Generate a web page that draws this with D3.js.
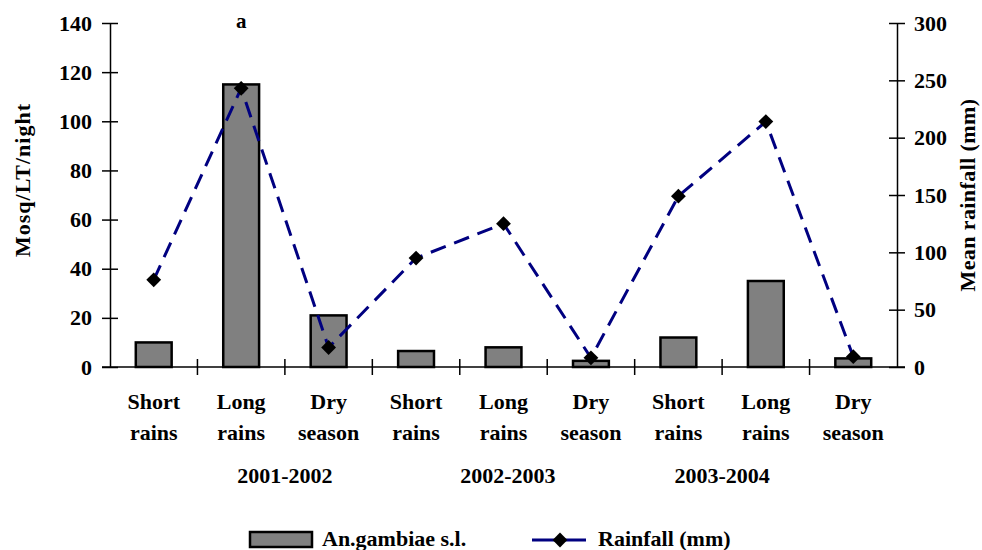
<!DOCTYPE html>
<html>
<head>
  <title>An. gambiae and rainfall</title>
  <script src="https://d3js.org/d3.v7.min.js"></script>
  <style>
    body { margin: 0; background: #fff; }
    text { font-family: "Liberation Serif", "Times New Roman", serif; font-weight: bold; fill: #000; }
  </style>
</head>
<body>
<svg id="chart"></svg>
<script>

  // data
  var seasons = ["Short rains", "Long rains", "Dry season",
                 "Short rains", "Long rains", "Dry season",
                 "Short rains", "Long rains", "Dry season"];
  var mosquitoes = [10, 115, 21, 6.5, 8, 2.5, 12, 35, 3.5];
  var rainfall = [76, 243, 17, 95, 125, 8, 149, 214, 9];
  var years = ["2001-2002", "2002-2003", "2003-2004"];
  var leftTicks = [0, 20, 40, 60, 80, 100, 120, 140];
  var rightTicks = [0, 50, 100, 150, 200, 250, 300];

  var width = 982;
  var height = 550;
  var margin = {left: 110, right: 85, top: 23, bottom: 183};

  var svg = d3.select("#chart")
    .attr("width", width)
    .attr("height", height);

  var x = d3.scaleBand()
    .domain(d3.range(seasons.length))
    .range([margin.left, width - margin.right])
    .padding(0);

  var yLeft = d3.scaleLinear()
    .domain([0, 140])
    .range([height - margin.bottom, margin.top]);

  var yRight = d3.scaleLinear()
    .domain([0, 300])
    .range([height - margin.bottom, margin.top]);

  var y0 = yLeft(0);
  var barW = x.bandwidth() * 0.41;

  // bars
  svg.append("g").selectAll("rect")
    .data(mosquitoes).enter()
    .append("rect")
    .attr("x", (d, i) => x(i) + x.bandwidth() / 2 - barW / 2)
    .attr("y", d => yLeft(d))
    .attr("width", barW)
    .attr("height", d => y0 - yLeft(d))
    .attr("fill", "#808080")
    .attr("stroke", "#000")
    .attr("stroke-width", 2.5);

  // axes
  var leftAxis = d3.axisLeft(yLeft).tickValues(leftTicks).tickSizeInner(8).tickSizeOuter(0).tickPadding(10);
  var gl = svg.append("g").attr("transform", `translate(${margin.left},0)`).call(leftAxis);

  var rightAxis = d3.axisRight(yRight).tickValues(rightTicks).tickSizeInner(8).tickSizeOuter(0).tickPadding(9);
  var gr = svg.append("g").attr("transform", `translate(${width - margin.right},0)`).call(rightAxis);

  [gl, gr].forEach(function (g) {
    g.select(".domain").attr("stroke", "#000").attr("stroke-width", 1.5);
    g.selectAll(".tick line").attr("stroke", "#000").attr("stroke-width", 1.5);
    g.selectAll(".tick text")
      .style("font-family", "'Liberation Serif', serif")
      .style("font-weight", "bold")
      .style("font-size", "22px")
      .attr("fill", "#000");
  });
  // ticks cross the axis line
  gl.selectAll(".tick line").attr("x1", 8);
  gr.selectAll(".tick line").attr("x1", -8);

  // x axis line and category ticks
  svg.append("line")
    .attr("x1", margin.left - 8).attr("x2", width - margin.right + 8)
    .attr("y1", y0).attr("y2", y0)
    .attr("stroke", "#000").attr("stroke-width", 1.5);

  svg.append("g").selectAll("line")
    .data(d3.range(1, seasons.length)).enter()
    .append("line")
    .attr("x1", i => x(i)).attr("x2", i => x(i))
    .attr("y1", y0 - 8).attr("y2", y0 + 8)
    .attr("stroke", "#000").attr("stroke-width", 1.5);

  // category labels, two lines each
  var cat = svg.append("g").selectAll("text")
    .data(seasons).enter()
    .append("text")
    .attr("text-anchor", "middle")
    .style("font-size", "22px")
    .attr("x", (d, i) => x(i) + x.bandwidth() / 2)
    .attr("y", 409);
  cat.append("tspan").text(d => d.split(" ")[0]);
  cat.append("tspan")
    .attr("x", (d, i) => x(i) + x.bandwidth() / 2)
    .attr("dy", 31)
    .text(d => d.split(" ")[1]);

  // year labels (not centred on their groups in the original)
  var yearPos = [x(2), x(4) + x.bandwidth() * 0.55, x(7)];
  svg.append("g").selectAll("text")
    .data(years).enter()
    .append("text")
    .attr("text-anchor", "middle")
    .style("font-size", "22px")
    .attr("x", (d, i) => yearPos[i])
    .attr("y", 483)
    .text(d => d);

  // rainfall line
  var line = d3.line()
    .x((d, i) => x(i) + x.bandwidth() / 2)
    .y(d => yRight(d));

  svg.append("path")
    .datum(rainfall)
    .attr("d", line)
    .attr("fill", "none")
    .attr("stroke", "#000080")
    .attr("stroke-width", 3)
    .attr("stroke-dasharray", "16,9");

  var diamond = d3.symbol().type(d3.symbolSquare).size(110);
  svg.append("g").selectAll("path")
    .data(rainfall).enter()
    .append("path")
    .attr("d", diamond)
    .attr("transform", (d, i) => `translate(${x(i) + x.bandwidth() / 2},${yRight(d)}) rotate(45)`)
    .attr("fill", "#000");

  // axis titles
  svg.append("text")
    .attr("transform", `translate(30,${(margin.top + y0) / 2 - 15}) rotate(-90)`)
    .attr("text-anchor", "middle")
    .style("font-size", "22px")
    .style("letter-spacing", "1px")
    .text("Mosq/LT/night");

  svg.append("text")
    .attr("transform", `translate(975,${(margin.top + y0) / 2}) rotate(-90)`)
    .attr("text-anchor", "middle")
    .style("font-size", "22px")
    .style("letter-spacing", "0.4px")
    .text("Mean rainfall (mm)");

  // panel letter
  svg.append("text")
    .attr("x", x(1) + x.bandwidth() / 2)
    .attr("y", 28)
    .attr("text-anchor", "middle")
    .style("font-size", "21px")
    .text("a");

  // legend
  var leg = svg.append("g");
  leg.append("rect")
    .attr("x", 250).attr("y", 532)
    .attr("width", 62).attr("height", 15)
    .attr("fill", "#808080").attr("stroke", "#000").attr("stroke-width", 2.5);
  leg.append("text")
    .attr("x", 322).attr("y", 546)
    .style("font-size", "22px")
    .text("An.gambiae s.l.");

  leg.append("line")
    .attr("x1", 532).attr("x2", 586)
    .attr("y1", 540).attr("y2", 540)
    .attr("stroke", "#000080").attr("stroke-width", 3);
  leg.append("path")
    .attr("d", diamond)
    .attr("transform", "translate(560,540) rotate(45)")
    .attr("fill", "#000");
  leg.append("text")
    .attr("x", 598).attr("y", 546)
    .style("font-size", "22px")
    .text("Rainfall (mm)");

</script>
</body>
</html>
